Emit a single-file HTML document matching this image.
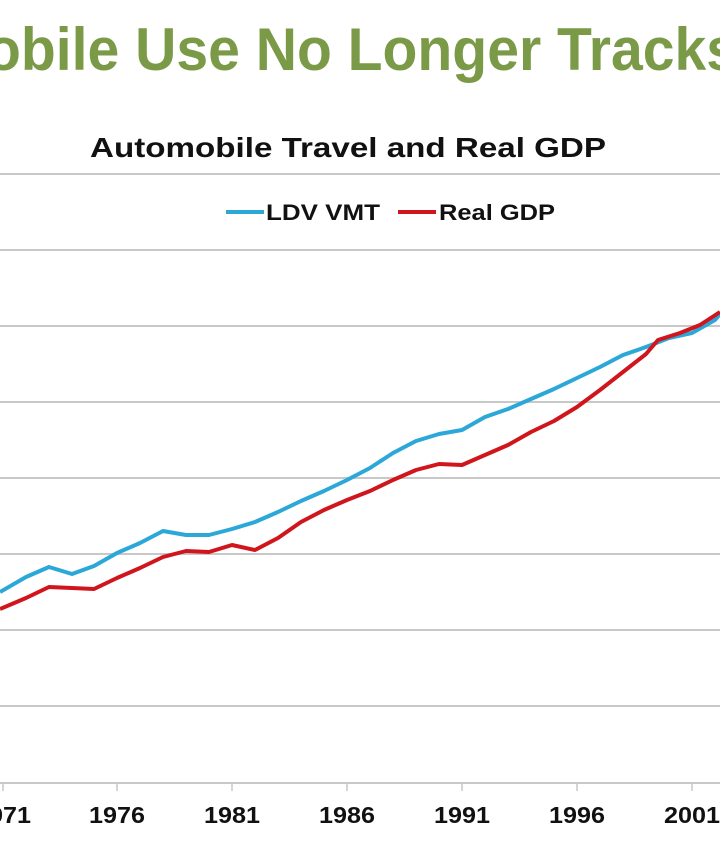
<!DOCTYPE html>
<html><head><meta charset="utf-8"><style>
html,body{margin:0;padding:0;background:#fff;width:720px;height:845px;overflow:hidden}
svg{display:block}
</style></head><body>
<svg width="720" height="845" viewBox="0 0 720 845" xmlns="http://www.w3.org/2000/svg">
<rect width="720" height="845" fill="#fff"/>
<text x="-14" y="70" font-family="Liberation Sans, sans-serif" font-weight="bold" font-size="60" fill="#7b9a47" textLength="752" lengthAdjust="spacingAndGlyphs">obile Use No Longer Tracks</text>
<text x="90" y="157" font-family="Liberation Sans, sans-serif" font-weight="bold" font-size="28" fill="#111" textLength="516" lengthAdjust="spacingAndGlyphs">Automobile Travel and Real GDP</text>
<g stroke="#c8c8c8" stroke-width="2">
<line x1="0" y1="174" x2="720" y2="174"/>
<line x1="0" y1="250" x2="720" y2="250"/>
<line x1="0" y1="326" x2="720" y2="326"/>
<line x1="0" y1="402" x2="720" y2="402"/>
<line x1="0" y1="478" x2="720" y2="478"/>
<line x1="0" y1="554" x2="720" y2="554"/>
<line x1="0" y1="630" x2="720" y2="630"/>
<line x1="0" y1="706" x2="720" y2="706"/>
<line x1="0" y1="783" x2="720" y2="783"/>
</g>
<g stroke="#c8c8c8" stroke-width="1.5">
<line x1="3" y1="783" x2="3" y2="791"/><line x1="117" y1="783" x2="117" y2="791"/><line x1="232" y1="783" x2="232" y2="791"/><line x1="347" y1="783" x2="347" y2="791"/><line x1="462" y1="783" x2="462" y2="791"/><line x1="577" y1="783" x2="577" y2="791"/><line x1="692" y1="783" x2="692" y2="791"/>
</g>
<g font-family="Liberation Sans, sans-serif" font-weight="bold" font-size="23" fill="#111" text-anchor="middle">
<text x="3" y="823" textLength="56" lengthAdjust="spacingAndGlyphs">1971</text><text x="117" y="823" textLength="56" lengthAdjust="spacingAndGlyphs">1976</text><text x="232" y="823" textLength="56" lengthAdjust="spacingAndGlyphs">1981</text><text x="347" y="823" textLength="56" lengthAdjust="spacingAndGlyphs">1986</text><text x="462" y="823" textLength="56" lengthAdjust="spacingAndGlyphs">1991</text><text x="577" y="823" textLength="56" lengthAdjust="spacingAndGlyphs">1996</text><text x="692" y="823" textLength="56" lengthAdjust="spacingAndGlyphs">2001</text>
</g>
<g font-family="Liberation Sans, sans-serif" font-weight="bold" font-size="22" fill="#111">
<line x1="226" y1="212" x2="264" y2="212" stroke="#2ba8d8" stroke-width="4"/>
<text x="266" y="220" textLength="114" lengthAdjust="spacingAndGlyphs">LDV VMT</text>
<line x1="398" y1="212" x2="436" y2="212" stroke="#d0161c" stroke-width="4"/>
<text x="439" y="220" textLength="116" lengthAdjust="spacingAndGlyphs">Real GDP</text>
</g>
<polyline fill="none" stroke="#2ba8d8" stroke-width="4" stroke-linejoin="round" points="0,592 26,577 49,567 72,574 94,566 117,553 140,543 163,531 186,535 209,535 232,529 255,522 278,512 301,501 324,491 347,480 370,468 393,453 416,441 439,434 462,430 485,417 508,409 531,399 554,389 577,378 600,367 623,355 646,347 669,338 692,333 715,320 720,314"/>
<polyline fill="none" stroke="#d0161c" stroke-width="4" stroke-linejoin="round" points="0,609 26,598 49,587 72,588 94,589 117,578 140,568 163,557 186,551 209,552 232,545 255,550 278,538 301,522 324,510 347,500 370,491 393,480 416,470 439,464 462,465 485,455 508,445 531,432 554,421 577,407 600,390 623,372 646,354 658,340 680,333 700,325 720,312"/>
</svg>
</body></html>
